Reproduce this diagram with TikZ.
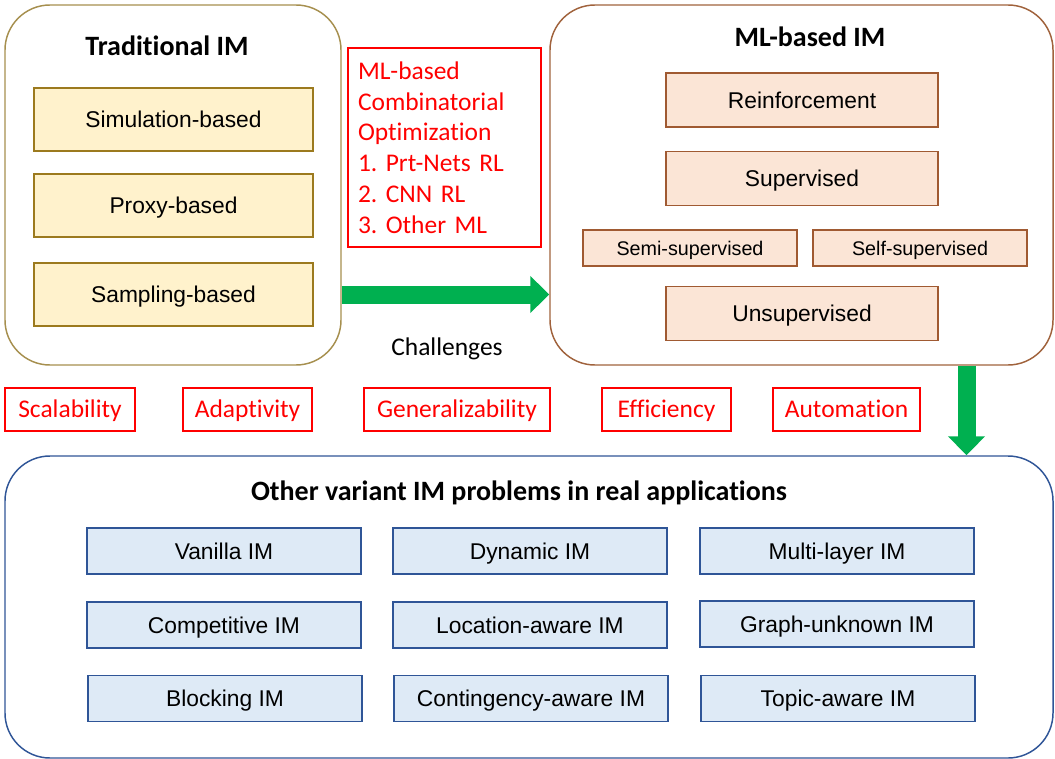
\documentclass[tikz,border=0pt]{standalone}
\usepackage{fontspec}
\setmainfont{Liberation Sans}
\newfontfamily\calfont[Ligatures=NoCommon]{Carlito}
\usetikzlibrary{arrows.meta}
\frenchspacing

\definecolor{tradline}{RGB}{166,143,78}
\definecolor{yelfill}{RGB}{255,242,204}
\definecolor{yelline}{RGB}{156,122,30}
\definecolor{mlline}{RGB}{160,98,60}
\definecolor{orafill}{RGB}{251,229,214}
\definecolor{oraline}{RGB}{160,90,50}
\definecolor{bluefill}{RGB}{222,234,246}
\definecolor{blueline}{RGB}{47,85,151}
\definecolor{arrgreen}{RGB}{0,176,80}

\def\pxu{0.75pt}

\tikzset{
  group/.style={draw, line width=1.1pt, rounded corners=45*\pxu, inner sep=0pt},
  title/.style={font=\calfont\bfseries\fontsize{21}{25}\selectfont, text height=13.5pt, text depth=0pt},
  labelbox/.style={line width=1.1pt, inner sep=0pt, text height=12.25pt, text depth=0pt,
    font=\fontsize{17.1}{20}\selectfont},
  yelbox/.style={labelbox, draw=yelline, fill=yelfill, minimum width=279*\pxu, minimum height=63*\pxu},
  orabox/.style={labelbox, draw=oraline, fill=orafill, minimum width=272*\pxu, minimum height=54*\pxu},
  smallbox/.style={orabox, minimum width=214*\pxu, minimum height=36*\pxu, text height=10.6pt,
    font=\fontsize{14.8}{18}\selectfont},
  bluebox/.style={labelbox, draw=blueline, fill=bluefill, minimum width=274*\pxu, minimum height=46*\pxu},
  redbox/.style={draw=red, line width=1pt, text=red, minimum height=43*\pxu, inner sep=0pt,
    text height=12.3pt, text depth=0pt, font=\calfont\fontsize{19.1}{23}\selectfont},
  bigarrow/.style={arrgreen, line width=18*\pxu,
    -{Triangle[length=19*\pxu, width=36*\pxu]}}
}

\begin{document}
\begin{tikzpicture}[x=0.75pt, y=-0.75pt]
  \useasboundingbox (0,0) rectangle (1055,759);

  % traditional IM
  \node[group, draw=tradline, minimum width=336*\pxu, minimum height=360*\pxu] (trad) at (173,185) {};
  \node[title] (tradtitle) at (167,47) {Traditional IM};
  \node[yelbox] (sim) at (173.5,119.5) {Simulation-based};
  \node[yelbox] (proxy) at (173.5,205.5) {Proxy-based};
  \node[yelbox] (samp) at (173.5,294.5) {Sampling-based};

  % ML-based combinatorial optimization
  \node[draw=red, line width=1pt, text=red, align=left, text width=173*\pxu, inner xsep=10*\pxu,
    inner ysep=0pt, minimum height=199*\pxu, font=\calfont\fontsize{19.1}{23.1}\selectfont]
    (combo) at (444.5,147.5) {ML-based\\Combinatorial\\Optimization\\1. Prt-Nets RL\\2. CNN RL\\3. Other ML};

  % ML-based IM
  \node[group, draw=mlline, minimum width=503*\pxu, minimum height=360*\pxu] (ml) at (801.5,185) {};
  \node[title] (mltitle) at (810,38) {ML-based IM};
  \node[orabox] (rein) at (802,100) {Reinforcement};
  \node[orabox] (sup) at (802,178.5) {Supervised};
  \node[smallbox] (semi) at (690,248) {Semi-supervised};
  \node[smallbox] (self) at (920,248) {Self-supervised};
  \node[orabox] (unsup) at (802,313.5) {Unsupervised};

  \draw[bigarrow] (trad.east |- samp) -- (ml.west |- samp);
  \node[font=\calfont\fontsize{19.1}{23}\selectfont, text height=12.3pt, text depth=0pt] (chal) at (447,347) {Challenges};

  % challenges
  \node[redbox, minimum width=130*\pxu] (scal) at (70,409.5) {Scalability};
  \node[redbox, minimum width=129*\pxu] (adap) at (247.5,409.5) {Adaptivity};
  \node[redbox, minimum width=186*\pxu] (gene) at (457,409.5) {Generalizability};
  \node[redbox, minimum width=129*\pxu] (effi) at (666.5,409.5) {Efficiency};
  \node[redbox, minimum width=147*\pxu] (auto) at (846.5,409.5) {Automation};

  % variants
  \node[group, draw=blueline, minimum width=1048*\pxu, minimum height=302*\pxu] (var) at (529,607) {};
  \node[title] (vartitle) at (519,491) {Other variant IM problems in real applications};
  \node[bluebox] (vanilla) at (224,551) {Vanilla IM};
  \node[bluebox] (dynamic) at (530,551) {Dynamic IM};
  \node[bluebox] (multi) at (837,551) {Multi-layer IM};
  \node[bluebox] (compet) at (224,625) {Competitive IM};
  \node[bluebox] (locat) at (530,625) {Location-aware IM};
  \node[bluebox] (graph) at (837,624) {Graph-unknown IM};
  \node[bluebox] (block) at (225,698.5) {Blocking IM};
  \node[bluebox] (conti) at (531,698.5) {Contingency-aware IM};
  \node[bluebox] (topic) at (838,698.5) {Topic-aware IM};

  \coordinate (down) at (966.5,0);
  \draw[bigarrow] (ml.south -| down) -- (var.north -| down);
\end{tikzpicture}
\end{document}
